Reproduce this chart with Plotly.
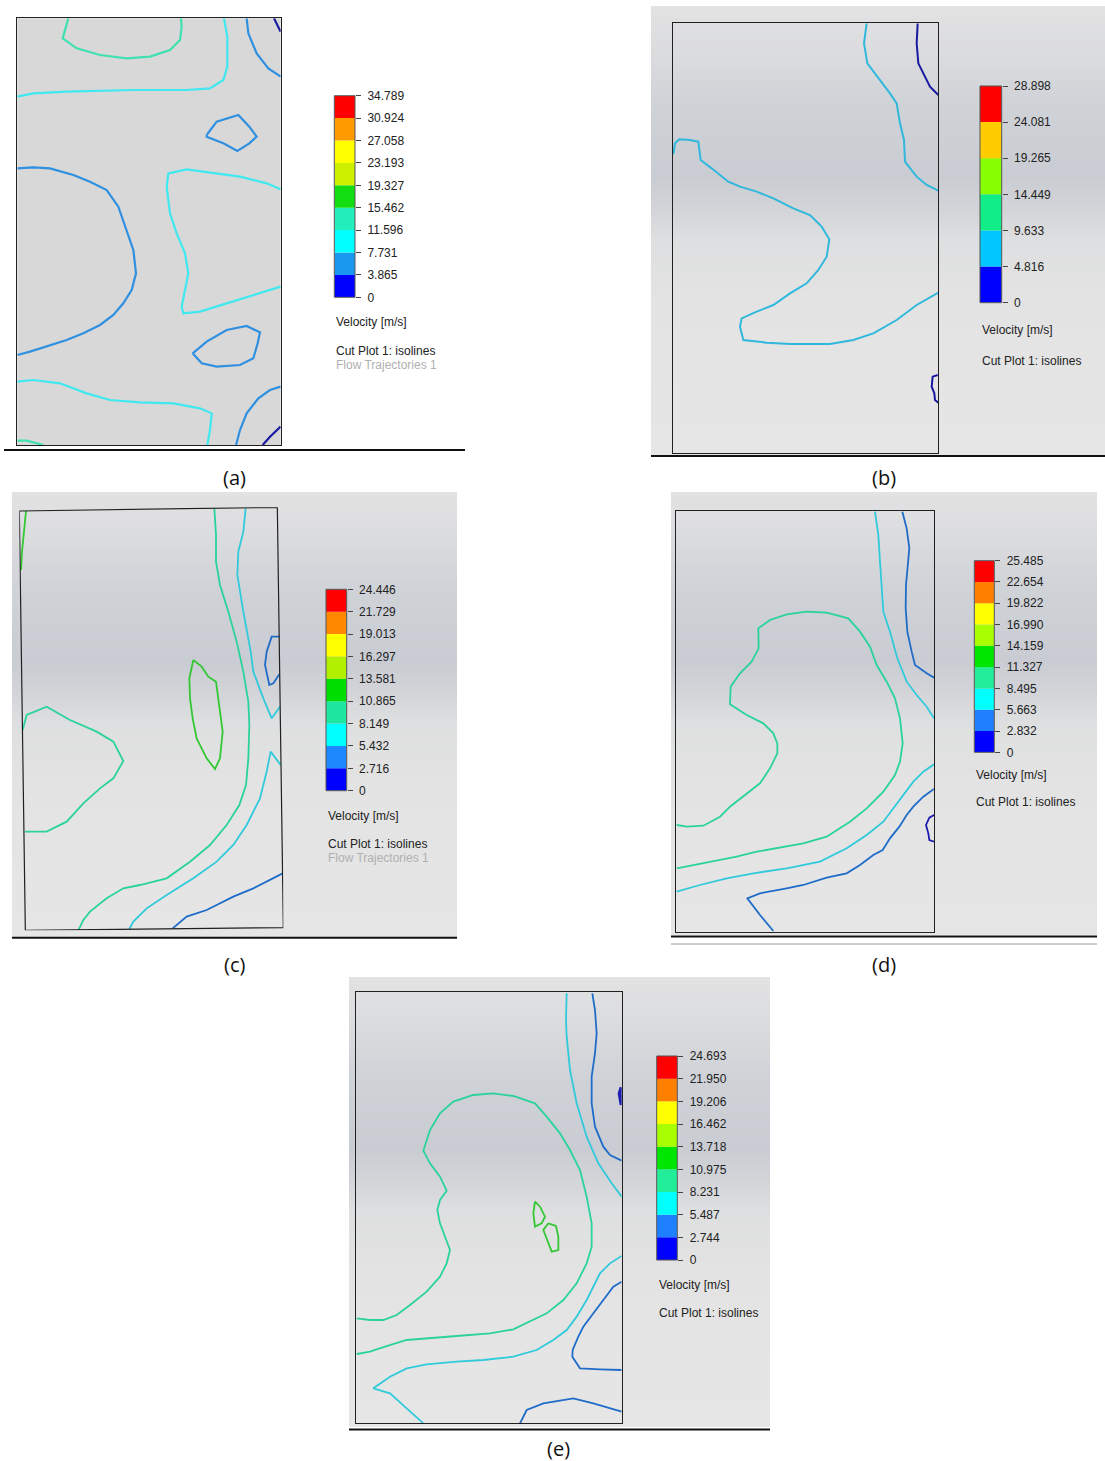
import plotly.graph_objects as go

W, H = 1105, 1461

# ---------------- DATA ----------------
A_LEVELS = [0, 3.865, 7.731, 11.596, 15.462, 19.327, 23.193, 27.058, 30.924, 34.789]
B_LEVELS = [0, 4.816, 9.633, 14.449, 19.265, 24.081, 28.898]
C_LEVELS = [0, 2.716, 5.432, 8.149, 10.865, 13.581, 16.297, 19.013, 21.729, 24.446]
D_LEVELS = [0, 2.832, 5.663, 8.495, 11.327, 14.159, 16.990, 19.822, 22.654, 25.485]
E_LEVELS = [0, 2.744, 5.487, 8.231, 10.975, 13.718, 16.462, 19.206, 21.950, 24.693]

# Isolines: (level index, points in each panel's local frame units)
A_ISOLINES = [
    (3, [(205, 55), (188, 115), (230, 145), (300, 165), (380, 175), (450, 170), (510, 150), (540, 120), (545, 80), (543, 55)]),
    (2, [(672, 55), (682, 110), (682, 200), (670, 240), (630, 265), (560, 270), (400, 270), (200, 275), (100, 280), (52, 290)]),
    (1, [(740, 55), (745, 100), (770, 160), (805, 205), (842, 230)]),
    (0, [(822, 55), (842, 95)]),
    (1, [(620, 405), (650, 365), (715, 345), (748, 380), (770, 410), (748, 430), (712, 453), (670, 430), (620, 410), (620, 405)]),
    (1, [(52, 505), (100, 502), (150, 505), (220, 525), (270, 545), (320, 570), (355, 620), (380, 690), (400, 750), (408, 820),
         (395, 870), (370, 910), (340, 945), (300, 975), (250, 1000), (200, 1020), (140, 1040), (90, 1055), (52, 1065)]),
    (2, [(842, 568), (800, 550), (720, 530), (640, 520), (560, 508), (505, 520), (500, 560), (510, 640), (530, 700), (555, 760),
         (565, 820), (555, 870), (545, 920), (550, 940), (600, 935), (680, 910), (760, 885), (842, 860)]),
    (1, [(578, 1060), (620, 1025), (680, 990), (740, 978), (780, 997), (773, 1030), (760, 1075), (720, 1095), (650, 1100),
         (605, 1090), (578, 1060)]),
    (2, [(52, 1145), (100, 1140), (180, 1150), (260, 1180), (330, 1200), (420, 1207), (520, 1210), (600, 1225), (635, 1240),
         (630, 1290), (622, 1335)]),
    (1, [(708, 1335), (720, 1290), (740, 1240), (775, 1195), (810, 1170), (842, 1160)]),
    (0, [(788, 1335), (810, 1310), (842, 1280)]),
    (3, [(52, 1322), (80, 1322), (130, 1335)]),
]

B_ISOLINES = [
    (1, [(680, 70), (672, 130), (682, 190), (720, 240), (750, 280), (770, 310), (780, 370), (792, 420), (795, 485), (830, 530),
         (860, 555), (895, 572)]),
    (0, [(833, 70), (830, 130), (835, 190), (855, 230), (870, 260), (895, 285)]),
    (1, [(100, 462), (105, 430), (118, 418), (150, 420), (175, 425), (182, 480), (215, 505), (265, 545), (300, 560), (350, 575),
         (400, 595), (460, 625), (510, 645), (545, 680), (568, 718), (560, 770), (535, 810), (500, 850), (450, 880), (400, 915),
         (350, 935), (305, 955), (300, 980), (310, 1020), (380, 1028), (450, 1032), (570, 1032), (640, 1020), (700, 1000),
         (770, 960), (830, 915), (895, 878)]),
    (0, [(893, 1125), (878, 1130), (875, 1160), (883, 1180), (885, 1200), (895, 1208)]),
]

C_ISOLINES = [
    (4, [(78, 78), (72, 140), (66, 200), (63, 255)]),
    (3, [(68, 735), (80, 690), (140, 665), (210, 705), (290, 740), (340, 770), (370, 828), (340, 880), (300, 910), (250, 955),
         (200, 1010), (140, 1040), (75, 1040)]),
    (4, [(580, 525), (605, 545), (625, 575), (648, 590), (660, 680), (668, 740), (660, 820), (645, 852), (620, 820), (590, 760),
         (578, 700), (570, 640), (568, 580), (580, 525)]),
    (3, [(643, 70), (648, 150), (648, 230), (660, 300), (685, 380), (710, 470), (730, 560), (745, 650), (748, 720), (745, 820),
         (738, 900), (718, 960), (680, 1020), (630, 1080), (570, 1130), (500, 1180), (420, 1200), (370, 1210), (320, 1240),
         (270, 1280), (250, 1305), (235, 1336)]),
    (2, [(737, 70), (730, 140), (715, 200), (712, 270), (730, 380), (752, 500), (760, 560), (790, 640), (815, 700), (840, 665)]),
    (2, [(842, 840), (812, 800), (800, 860), (780, 940), (740, 1020), (700, 1080), (650, 1130), (580, 1180), (500, 1230),
         (440, 1270), (400, 1310), (388, 1332)]),
    (1, [(838, 455), (815, 455), (800, 500), (795, 540), (808, 600), (820, 595), (838, 568)]),
    (1, [(518, 1330), (560, 1295), (620, 1275), (700, 1235), (760, 1210), (810, 1185), (848, 1165)]),
]

D_ISOLINES = [
    (3, [(50, 1020), (80, 1025), (130, 1022), (180, 995), (210, 965), (250, 935), (300, 895), (330, 850), (352, 805), (352, 775),
         (340, 745), (310, 715), (260, 690), (210, 658), (212, 605), (240, 565), (275, 530), (296, 490), (295, 430), (330, 405),
         (380, 388), (440, 380), (500, 383), (565, 400), (600, 440), (630, 485), (650, 540), (680, 590), (705, 640), (720, 700),
         (728, 775), (720, 830), (705, 870), (670, 920), (620, 970), (570, 1010), (500, 1055), (430, 1075), (350, 1090),
         (290, 1100), (230, 1115), (150, 1130), (50, 1150)]),
    (2, [(645, 80), (655, 150), (660, 230), (665, 310), (670, 380), (690, 440), (712, 520), (740, 590), (770, 630), (800, 665),
         (822, 700)]),
    (2, [(822, 838), (790, 860), (760, 890), (730, 930), (700, 970), (670, 1010), (620, 1050), (560, 1090), (480, 1130),
         (380, 1150), (280, 1165), (200, 1180), (120, 1200), (50, 1220)]),
    (1, [(727, 80), (740, 130), (748, 190), (742, 250), (738, 300), (737, 370), (742, 440), (755, 500), (765, 540), (800, 565),
         (822, 578)]),
    (1, [(822, 912), (790, 935), (760, 965), (740, 990), (718, 1025), (690, 1060), (668, 1095), (640, 1110), (600, 1140),
         (560, 1165), (500, 1178), (430, 1200), (380, 1210), (300, 1225), (262, 1240), (300, 1290), (340, 1338)]),
    (0, [(822, 990), (808, 998), (798, 1020), (805, 1045), (808, 1065), (822, 1070)]),
]

E_ISOLINES = [
    (3, [(50, 1045), (90, 1050), (130, 1050), (170, 1035), (210, 1005), (260, 965), (300, 920), (320, 880), (330, 840), (315, 800),
         (300, 760), (292, 720), (300, 690), (320, 662), (300, 620), (270, 580), (250, 542), (270, 480), (300, 430), (340, 395),
         (400, 375), (460, 370), (520, 378), (585, 400), (620, 440), (660, 490), (690, 540), (720, 600), (740, 680), (755, 760),
         (755, 830), (740, 880), (710, 940), (670, 990), (620, 1030), (520, 1078), (450, 1090), (350, 1098), (200, 1110),
         (135, 1130), (90, 1145), (50, 1152)]),
    (2, [(680, 70), (678, 150), (680, 200), (690, 300), (710, 400), (740, 500), (775, 580), (815, 640), (845, 680)]),
    (2, [(845, 858), (810, 880), (780, 910), (760, 950), (740, 990), (710, 1040), (680, 1080), (640, 1110), (590, 1140),
         (520, 1160), (430, 1170), (350, 1175), (260, 1183), (200, 1195), (150, 1220), (100, 1255), (150, 1270), (200, 1315),
         (250, 1360)]),
    (1, [(757, 70), (765, 120), (770, 190), (765, 250), (755, 320), (755, 400), (765, 470), (790, 530), (810, 555), (845, 572)]),
    (1, [(845, 935), (820, 950), (790, 990), (760, 1030), (730, 1070), (715, 1100), (698, 1140), (697, 1160), (720, 1195),
         (780, 1198), (845, 1200)]),
    (1, [(540, 1360), (560, 1320), (610, 1300), (700, 1285), (760, 1300), (845, 1325)]),
    (0, [(845, 352), (839, 370), (845, 405)]),
    (4, [(585, 695), (600, 710), (615, 740), (605, 760), (585, 770), (580, 730), (585, 695)]),
    (4, [(625, 760), (648, 768), (655, 800), (655, 840), (635, 845), (625, 820), (610, 780), (625, 760)]),
]

C_FRAME_CORNERS = [(58, 78), (832, 67), (850, 1328), (76, 1336)]

CAPTIONS = ["(a)", "(b)", "(c)", "(d)", "(e)"]

# ---------------- STYLE / LAYOUT ----------------
PAL9_A = ["#0000ff", "#1a98f0", "#00ffff", "#22eebb", "#11dd11", "#ccf000", "#ffff00", "#ff9900", "#ff0000"]
PAL6_B = ["#0000ff", "#00c8ff", "#11ee88", "#88ff00", "#ffcc00", "#ff0000"]
PAL9_C = ["#0000ff", "#1e88ff", "#00ffff", "#1ee8a0", "#00dd00", "#b0f000", "#ffff00", "#ff8800", "#ff0000"]
PAL9_D = ["#0000ff", "#1e7fff", "#00ffff", "#22ee99", "#00e600", "#a8ff00", "#ffff00", "#ff8000", "#ff0000"]

LINE_A = ["#1a1aa0", "#3090e0", "#40e8f0", "#40e0b0"]
LINE_B = ["#1818a0", "#30b8dc"]
LINE_CE = ["#1c1cb0", "#1f6cc8", "#30cada", "#2ad39a", "#33c833"]

BG_SCALE = [[0, "#e2e2e3"], [0.1, "#dbdcde"], [0.22, "#cfd2d7"], [0.38, "#c9ccd2"], [0.45, "#d2d4d8"],
            [0.52, "#dedfe0"], [0.65, "#e3e3e3"], [1, "#e6e6e6"]]

PANELS = [
    dict(lines=A_ISOLINES, levels=A_LEVELS, pal=PAL9_A, lpal=LINE_A, lw=2.2, off=(0, 0), fr=(52, 842, 55, 1335),
         cbar=(334.3, 355, 95.7, 297.3), txt=(334, 322, 351, 365), flow=True, bg=None, cap=(234, 477),
         bline=(4, 465, 450)),
    dict(lines=B_ISOLINES, levels=B_LEVELS, pal=PAL6_B, lpal=LINE_B, lw=2.0, off=(640, 0), fr=(98, 895, 70, 1358),
         cbar=(980, 1001.7, 86, 302.7), txt=(980, 330, 361, None), flow=False, bg=(651, 1105, 6, 455), cap=(884, 477),
         bline=(651, 1105, 456)),
    dict(lines=C_ISOLINES, levels=C_LEVELS, pal=PAL9_C, lpal=LINE_CE, lw=1.8, off=(0, 485), fr=(58, 850, 67, 1336),
         cbar=(326, 346.7, 589.3, 790.7), txt=(326, 815.7, 844.3, 858.3), flow=True, bg=(12, 457, 492, 937),
         cap=(234, 964), bline=(12, 457, 937.8)),
    dict(lines=D_ISOLINES, levels=D_LEVELS, pal=PAL9_D, lpal=LINE_CE, lw=1.8, off=(660, 485), fr=(48, 822, 78, 1340),
         cbar=(974.3, 994.3, 560.7, 752.3), txt=(974.3, 775, 802.3, None), flow=False, bg=(671, 1097, 492, 935),
         cap=(884, 964), bline=(671, 1097, 936.5)),
    dict(lines=E_ISOLINES, levels=E_LEVELS, pal=PAL9_D, lpal=LINE_CE, lw=1.8, off=(340, 970), fr=(48, 845, 67, 1360),
         cbar=(656.7, 677.3, 1056, 1260), txt=(656.7, 1285, 1313.3, None), flow=False, bg=(349, 770, 977, 1427),
         cap=(558, 1448), bline=(349, 770, 1429.5)),
]


def dx(a, b):
    return [max(0, a / W), min(1, b / W)]


def dy(a, b):
    return [max(0, 1 - b / H), min(1, 1 - a / H)]


def ax_name(n):
    return ("x" if n == 1 else "x%d" % n), ("y" if n == 1 else "y%d" % n)


def ax_key(n):
    return ("xaxis" if n == 1 else "xaxis%d" % n), ("yaxis" if n == 1 else "yaxis%d" % n)


fig = go.Figure()
layout = dict(width=W, height=H, margin=dict(l=0, r=0, t=0, b=0, pad=0, autoexpand=False), paper_bgcolor="white",
              plot_bgcolor="rgba(0,0,0,0)", showlegend=False)
shapes = []
annotations = []
hidden = dict(visible=False, showgrid=False, zeroline=False, fixedrange=True, automargin=False)

n = 0
ts = [i / 40 * 1.1 - 0.05 for i in range(41)]
for p in PANELS:
    if p["bg"] is None:
        continue
    n += 1
    x0, x1, y0, y1 = p["bg"]
    xa, ya = ax_name(n)
    kx, ky = ax_key(n)
    layout[kx] = dict(hidden, domain=dx(x0, x1), range=[0, 1], anchor=ya)
    layout[ky] = dict(hidden, domain=dy(y0, y1), range=[1, 0], anchor=xa)
    fig.add_trace(go.Heatmap(z=[[t, t, t] for t in ts], x=[-1, 0.5, 2], y=ts, colorscale=BG_SCALE, zmin=0, zmax=1,
                             showscale=False, zsmooth="best", hoverinfo="skip", xaxis=xa, yaxis=ya))

for i, p in enumerate(PANELS):
    n += 1
    xa, ya = ax_name(n)
    kx, ky = ax_key(n)
    fx0, fx1, fy0, fy1 = p["fr"]
    ox, oy = p["off"]
    framed = i != 2
    common = dict(showgrid=False, zeroline=False, showticklabels=False, ticks="", fixedrange=True, automargin=False,
                  showline=framed, mirror=framed, linecolor="#202020", linewidth=1)
    layout[kx] = dict(common, domain=dx(ox + fx0 / 3, ox + fx1 / 3), range=[fx0, fx1], anchor=ya)
    layout[ky] = dict(common, domain=dy(oy + fy0 / 3, oy + fy1 / 3), range=[fy1, fy0], anchor=xa)
    if i == 0:
        shapes.append(dict(type="rect", xref="paper", yref="paper",
                           x0=(ox + fx0 / 3) / W, x1=(ox + fx1 / 3) / W,
                           y0=1 - (oy + fy1 / 3) / H, y1=1 - (oy + fy0 / 3) / H,
                           fillcolor="#d8d8d8", line=dict(width=0), layer="below"))
    if i == 2:
        path = "M " + " L ".join("%g %g" % c for c in C_FRAME_CORNERS) + " Z"
        shapes.append(dict(type="path", xref=xa, yref=ya, path=path, line=dict(color="#202020", width=1.2),
                           layer="above"))
    for lvl, pts in p["lines"]:
        fig.add_trace(go.Scatter(x=[q[0] for q in pts], y=[q[1] for q in pts], mode="lines",
                                 line=dict(color=p["lpal"][lvl], width=(4 if (i == 4 and lvl == 0) else p["lw"])),
                                 hoverinfo="skip", xaxis=xa, yaxis=ya))

for i, p in enumerate(PANELS):
    n += 1
    xa, ya = ax_name(n)
    kx, ky = ax_key(n)
    cx0, cx1, cy0, cy1 = p["cbar"]
    lv = p["levels"]
    layout[kx] = dict(hidden, domain=dx(cx0, cx1), range=[-0.5, 0.5], anchor=ya)
    layout[ky] = dict(domain=dy(cy0, cy1), range=[0, lv[-1]], anchor=xa, side="right", showgrid=False,
                      zeroline=False, fixedrange=True, showline=False, automargin=False, ticks="outside", ticklen=5,
                      tickwidth=1, tickcolor="#444", tickvals=lv,
                      ticktext=["0" if v == 0 else "%.3f" % v for v in lv],
                      tickfont=dict(family="Liberation Sans, Arial", size=12, color="#222"),
                      ticklabelstandoff=4)
    fig.add_trace(go.Bar(x=[0] * (len(lv) - 1), y=[lv[k + 1] - lv[k] for k in range(len(lv) - 1)], base=lv[:-1],
                         width=1, marker=dict(color=p["pal"], line=dict(width=0)), hoverinfo="skip",
                         xaxis=xa, yaxis=ya))
    shapes.append(dict(type="rect", xref="paper", yref="paper", x0=cx0 / W, x1=cx1 / W, y0=1 - cy1 / H,
                       y1=1 - cy0 / H, line=dict(color="#555", width=1), layer="above"))
    tx, ty1, ty2, ty3 = p["txt"]
    fnt = dict(family="Liberation Sans, Arial", size=12, color="#222")
    annotations.append(dict(text="Velocity [m/s]", x=tx / W, y=1 - ty1 / H, xref="paper", yref="paper",
                            xanchor="left", yanchor="middle", showarrow=False, font=fnt))
    annotations.append(dict(text="Cut Plot 1: isolines", x=tx / W, y=1 - ty2 / H, xref="paper", yref="paper",
                            xanchor="left", yanchor="middle", showarrow=False, font=fnt))
    if p["flow"]:
        annotations.append(dict(text="Flow Trajectories 1", x=tx / W, y=1 - ty3 / H, xref="paper", yref="paper",
                                xanchor="left", yanchor="middle", showarrow=False,
                                font=dict(family="Liberation Sans, Arial", size=12, color="#b0b0b0")))
    cxp, cyp = p["cap"]
    annotations.append(dict(text=CAPTIONS[i], x=cxp / W, y=1 - cyp / H, xref="paper", yref="paper",
                            xanchor="center", yanchor="middle", showarrow=False,
                            font=dict(family="Open Sans", size=20, color="#111")))
    bx0, bx1, by = p["bline"]
    shapes.append(dict(type="line", xref="paper", yref="paper", x0=bx0 / W, x1=bx1 / W, y0=1 - by / H,
                       y1=1 - by / H, line=dict(color="#111", width=2), layer="above"))

shapes.append(dict(type="line", xref="paper", yref="paper", x0=671 / W, x1=1097 / W, y0=1 - 944 / H, y1=1 - 944 / H,
                   line=dict(color="#9a9a9a", width=1), layer="above"))

layout["shapes"] = shapes
layout["annotations"] = annotations
fig.update_layout(**layout)
fig.write_html("out.html", config={"displayModeBar": False, "staticPlot": True},
               post_script="document.body.style.margin='0px';document.body.style.overflow='hidden';")
